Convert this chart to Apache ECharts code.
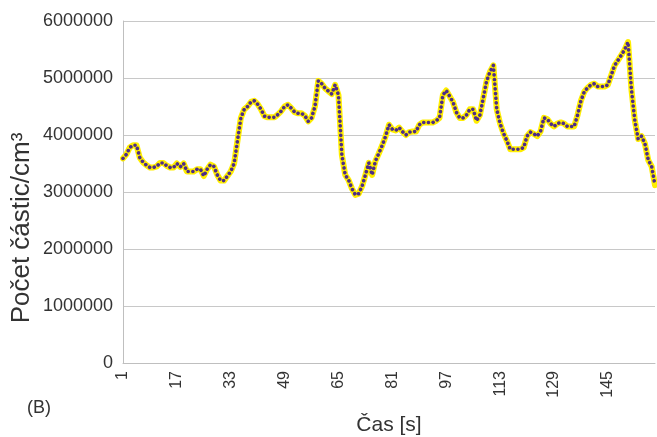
<!DOCTYPE html>
<html>
<head>
<meta charset="utf-8">
<script src="https://cdn.jsdelivr.net/npm/echarts@6/dist/echarts.min.js"></script>
<style>html,body{margin:0;padding:0;background:#fff;}#c{width:657px;height:437px;}</style>
</head>
<body>
<div id="c"></div>
<script>
// categories: time in seconds 1..159
var categories = [];
for (var k = 1; k <= 159; k++) categories.push(String(k));

// particle counts per cm3
var counts = [
3590000,3660000,3780000,3820000,3820000,3600000,3520000,3470000,3430000,3430000,
3450000,3510000,3510000,3460000,3430000,3430000,3500000,3440000,3500000,3360000,
3360000,3360000,3400000,3400000,3280000,3400000,3480000,3450000,3300000,3200000,
3200000,3280000,3360000,3500000,3900000,4300000,4450000,4500000,4580000,4600000,
4540000,4450000,4330000,4310000,4310000,4310000,4360000,4420000,4500000,4530000,
4470000,4400000,4380000,4380000,4340000,4240000,4300000,4500000,4950000,4900000,
4820000,4770000,4720000,4880000,4700000,3650000,3300000,3210000,3060000,2950000,
2970000,3100000,3300000,3510000,3300000,3550000,3680000,3820000,3980000,4180000,
4100000,4080000,4130000,4060000,4000000,4050000,4060000,4060000,4180000,4220000,
4220000,4220000,4220000,4250000,4300000,4700000,4780000,4680000,4580000,4400000,
4300000,4300000,4350000,4450000,4450000,4250000,4350000,4650000,4950000,5110000,
5220000,4450000,4200000,4030000,3900000,3750000,3750000,3750000,3750000,3780000,
3980000,4050000,4020000,3980000,4060000,4300000,4280000,4200000,4150000,4200000,
4220000,4200000,4150000,4150000,4150000,4350000,4600000,4760000,4830000,4880000,
4900000,4850000,4850000,4850000,4880000,5050000,5220000,5310000,5400000,5500000,
5630000,4800000,4260000,3930000,3980000,3850000,3560000,3450000,3120000
];

// y-axis ticks
var yMin = 0, yMax = 6000000, yStep = 1000000;

var chart = echarts.init(document.getElementById('c'), null, {renderer: 'canvas'});
var txt = '#333333';
var font = 'Liberation Sans';
chart.setOption({
  animation: false,
  grid: {left: 123, right: 2, top: 21, bottom: 74, containLabel: false, outerBoundsMode: 'none'},
  xAxis: {
    type: 'category',
    data: categories,
    boundaryGap: false,
    axisLine: {show: true, lineStyle: {color: '#bfbfbf', width: 1}},
    axisTick: {show: false},
    axisLabel: {interval: 15, rotate: 90, margin: 8, color: txt, fontSize: 16, fontFamily: font},
    splitLine: {show: false},
    name: 'Čas [s]',
    nameLocation: 'middle',
    nameGap: 52,
    nameTextStyle: {color: txt, fontSize: 21, fontFamily: font}
  },
  yAxis: {
    type: 'value',
    min: yMin, max: yMax, interval: yStep,
    axisLine: {show: true, lineStyle: {color: '#bfbfbf', width: 1}},
    axisTick: {show: false},
    axisLabel: {margin: 10, color: txt, fontSize: 18, fontFamily: font,
      formatter: function (v) { return String(v); }},
    splitLine: {show: true, lineStyle: {color: '#c8c8c8', width: 1}}
  },
  graphic: [
    {type: 'text', left: 27, top: 399, style: {text: '(B)', fill: txt, fontSize: 18, fontFamily: font}},
    {type: 'text', x: 22, y: 228, rotation: Math.PI / 2,
     style: {text: 'Počet částic/cm³', fill: txt, fontSize: 26, fontFamily: font, align: 'center', verticalAlign: 'middle'}}
  ],
  series: [
    {type: 'line', data: counts, symbol: 'none', smooth: false,
     lineStyle: {color: '#FFEE00', width: 6, cap: 'round', join: 'round'}, z: 2},
    {type: 'line', data: counts, symbol: 'none', smooth: false,
     lineStyle: {color: '#4E2D88', width: 3.6, type: [0.1, 4.6], cap: 'round', join: 'round'}, z: 3}
  ]
});
</script>
</body>
</html>
